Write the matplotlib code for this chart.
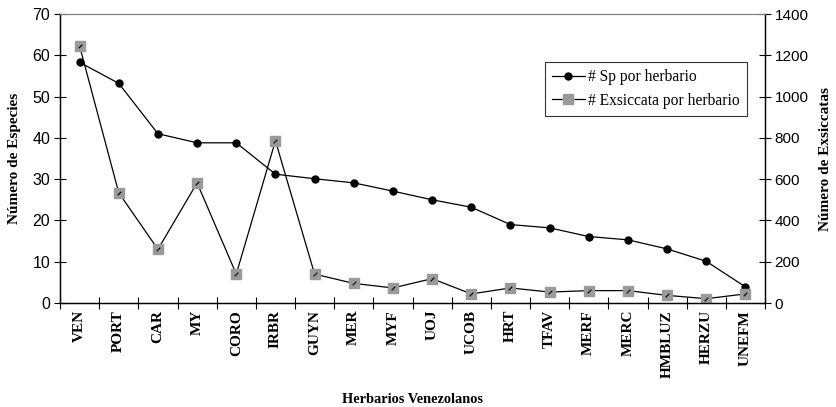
import matplotlib.pyplot as plt

herbarios = ['VEN', 'PORT', 'CAR', 'MY', 'CORO', 'IRBR', 'GUYN', 'MER', 'MYF', 'UOJ',
             'UCOB', 'HRT', 'TFAV', 'MERF', 'MERC', 'HMBLUZ', 'HERZU', 'UNEFM']
sp_por_herbario = [58.3, 53.2, 41, 38.8, 38.8, 31.2, 30.1, 29.1, 27.1, 25,
                   23.2, 19.0, 18.2, 16.1, 15.3, 13.1, 10.1, 3.9]
exsiccata_por_herbario = [1245, 534, 260, 582, 140, 786, 140, 95, 73, 118,
                          44, 73, 53, 60, 60, 37, 21, 44]

serif = 'Liberation Serif'
sans = 'Liberation Sans'

fig = plt.figure(figsize=(8.37, 4.07), dpi=100)
ax = fig.add_axes([0.0717, 0.2555, 0.8423, 0.7101])
ax2 = ax.twinx()

x = list(range(len(herbarios)))

l1, = ax.plot(x, sp_por_herbario, color='black', lw=0.9, marker='o',
              markersize=5, markerfacecolor='black', markeredgecolor='black')
l2, = ax2.plot(x, exsiccata_por_herbario, color='black', lw=0.9, marker='s',
               markersize=7.8, markerfacecolor='#9a9a9a', markeredgecolor='#9a9a9a')
# little slash inside the squares
ax2.plot(x, exsiccata_por_herbario, ls='none', marker=(2, 2, -45),
         markersize=3.5, markeredgecolor='black', markeredgewidth=0.6)

ax.set_xlim(-0.5, len(herbarios) - 0.5)
ax.set_ylim(0, 70)
ax2.set_ylim(0, 1400)
ax.set_yticks(range(0, 71, 10))
ax2.set_yticks(range(0, 1401, 200))

ax.set_xticks([i - 0.5 for i in range(len(herbarios) + 1)])
ax.set_xticklabels([])
ax.set_xticks(x, minor=True)
ax.set_xticklabels(herbarios, minor=True, rotation=90, fontfamily=serif,
                   fontweight='bold', fontsize=11)
ax.tick_params(axis='x', which='minor', length=0, pad=5)
ax.tick_params(axis='x', which='major', direction='inout', length=8, width=0.8)
ax.tick_params(axis='y', direction='inout', length=8, width=0.8, labelsize=11.5, pad=3)
ax2.tick_params(axis='y', direction='inout', length=8, width=0.8, labelsize=11, pad=3)
for lab in ax.get_yticklabels() + ax2.get_yticklabels():
    lab.set_fontfamily(sans)

for a in (ax, ax2):
    a.spines['top'].set_color('#808080')
    a.spines['left'].set_linewidth(0.9)
    a.spines['right'].set_linewidth(0.9)
    a.spines['bottom'].set_linewidth(0.9)

ax.set_ylabel('Número de Especies', fontfamily=serif, fontweight='bold', fontsize=11)
ax2.set_ylabel('Número de Exsiccatas', fontfamily=serif, fontweight='bold', fontsize=11)
ax.set_xlabel('Herbarios Venezolanos', fontfamily=serif, fontweight='bold', fontsize=10.4)
ax.xaxis.set_label_coords(0.5, -0.31)
ax.yaxis.set_label_coords(-0.055, 0.5)
ax2.yaxis.set_label_coords(1.0766, 0.5)

leg = ax.legend([l1, l2], ['# Sp por herbario', '# Exsiccata por herbario'],
                loc='upper left', bbox_to_anchor=(0.688, 0.834), frameon=True,
                fancybox=False, edgecolor='black', prop={'family': serif, 'size': 11.2},
                handlelength=2.1, borderpad=0.45, labelspacing=0.5, handletextpad=0.2,
                borderaxespad=0)
leg.get_frame().set_linewidth(0.8)

fig.savefig('out.png', dpi=100)
